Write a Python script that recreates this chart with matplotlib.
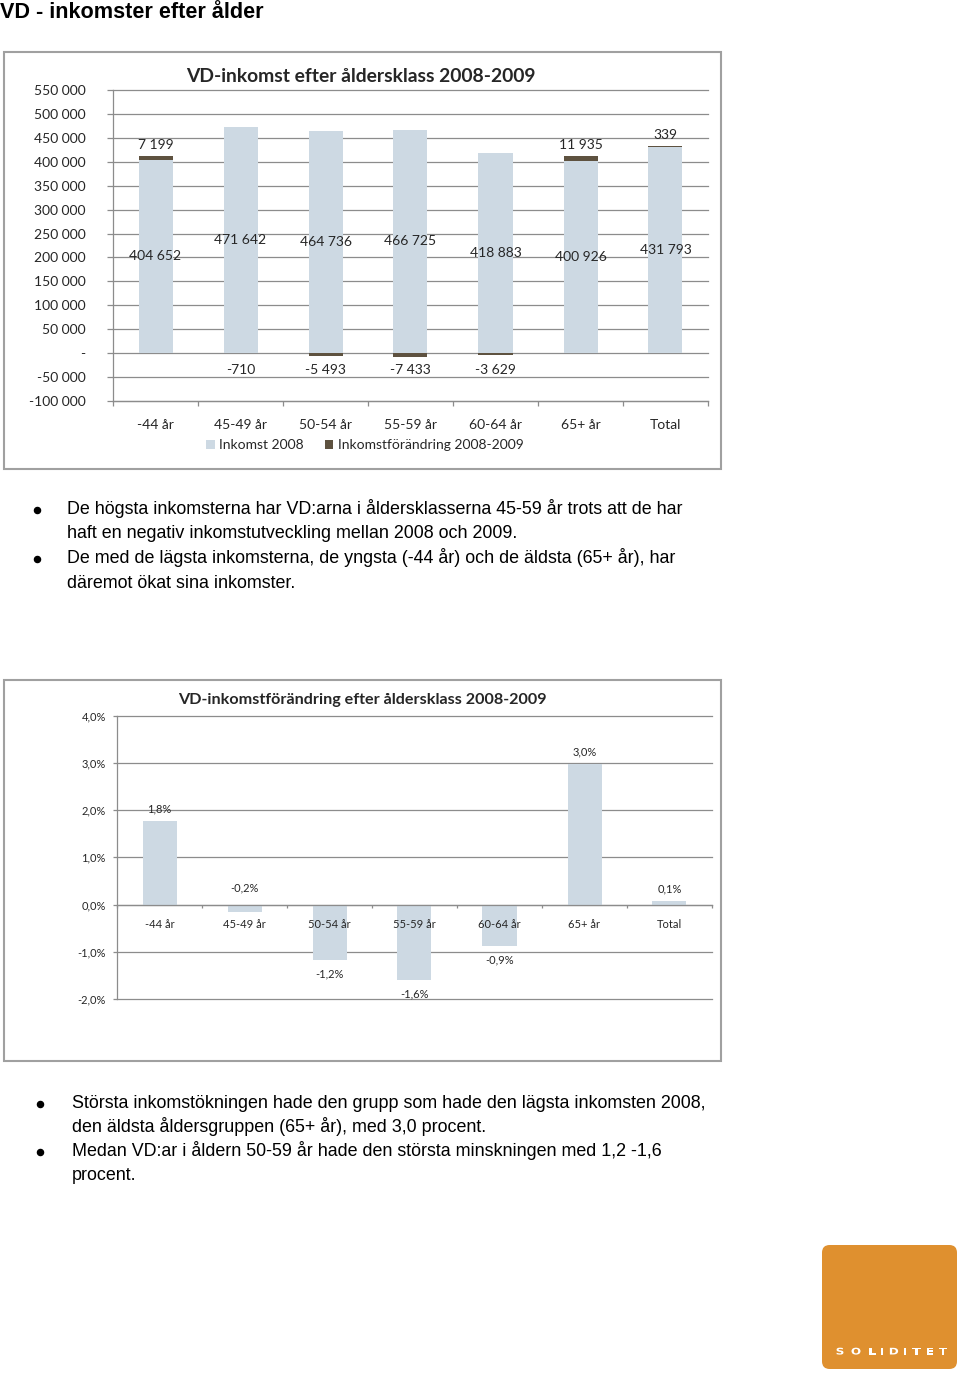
import matplotlib
matplotlib.use("Agg")
import matplotlib.pyplot as plt
from matplotlib.patches import Rectangle, FancyBboxPatch, Patch, PathPatch
from matplotlib.lines import Line2D
from matplotlib.textpath import TextPath
from matplotlib.font_manager import FontProperties
from matplotlib.transforms import Affine2D
from matplotlib.ticker import FixedLocator, FuncFormatter

# ---------------- data ----------------
categories = ["-44 år", "45-49 år", "50-54 år", "55-59 år", "60-64 år", "65+ år", "Total"]
income_2008 = [404652, 471642, 464736, 466725, 418883, 400926, 431793]
income_change = [7199, -710, -5493, -7433, -3629, 11935, 339]
pct_change = [1.78, -0.16, -1.18, -1.59, -0.87, 2.98, 0.08]

series_names = ["Inkomst 2008", "Inkomstförändring 2008-2009"]
title_page = "VD - inkomster efter ålder"
title_chart1 = "VD-inkomst efter åldersklass 2008-2009"
title_chart2 = "VD-inkomstförändring efter åldersklass 2008-2009"
bullets_1 = [
    ["De högsta inkomsterna har VD:arna i åldersklasserna 45-59 år trots att de har",
     "haft en negativ inkomstutveckling mellan 2008 och 2009."],
    ["De med de lägsta inkomsterna, de yngsta (-44 år) och de äldsta (65+ år), har",
     "däremot ökat sina inkomster."],
]
bullets_2 = [
    ["Största inkomstökningen hade den grupp som hade den lägsta inkomsten 2008,",
     "den äldsta åldersgruppen (65+ år), med 3,0 procent."],
    ["Medan VD:ar i åldern 50-59 år hade den största minskningen med 1,2 -1,6",
     "procent."],
]
logo_text = "SOLIDITET"

# ---------------- style ----------------
W, H = 960, 1373
LIGHT = "#cdd9e3"
DARK = "#5e5240"
GRID = "#8c8c8c"
TXT = "#262626"
CFONT = "Lato"
PFONT = ["Liberation Sans", "DejaVu Sans"]
BODY_FS = 12.9

fig = plt.figure(figsize=(W / 100, H / 100), dpi=100)
fig.patch.set_facecolor("white")


def fx(px):
    return px / W


def fy(py):
    return 1 - py / H


def add_axes_px(x0, y0, x1, y1):
    return fig.add_axes([fx(x0), fy(y1), fx(x1 - x0), (y1 - y0) / H])


def box_px(x0, y0, x1, y1):
    fig.add_artist(Rectangle((fx(x0), fy(y1)), fx(x1 - x0), (y1 - y0) / H,
                             transform=fig.transFigure, fill=False,
                             edgecolor="#a0a0a0", lw=1.5))


def space_fmt(v):
    v = int(round(v))
    if v == 0:
        return "-"
    s = f"{abs(v):,}".replace(",", " ")
    return ("-" if v < 0 else "") + s


def unclip_grid(ax):
    for ln in ax.get_ygridlines():
        ln.set_clip_on(False)


def bullet_block(blocks, x_bullet, x_text, first_center, step):
    yc = first_center
    for lines in blocks:
        fig.add_artist(Line2D([fx(x_bullet)], [fy(yc + 1.5)], marker="o", ms=4.4,
                              color="black", transform=fig.transFigure, lw=0))
        for ln in lines:
            fig.text(fx(x_text), fy(yc + 6), ln, fontsize=BODY_FS, family=PFONT,
                     ha="left", va="baseline", color="black")
            yc += step


# ---------------- page title ----------------
fig.text(fx(0), fy(17.5), title_page, fontsize=15.6, fontweight="bold",
         family=PFONT, va="baseline", ha="left", color="black")

# ---------------- chart 1 ----------------
box_px(4, 52, 721, 469)
ax1 = add_axes_px(113, 90, 708, 401)
x = list(range(len(categories)))
ax1.bar(x, income_2008, width=0.4, color=LIGHT, zorder=2)
pos_ch = [c if c > 0 else 0 for c in income_change]
neg_ch = [c if c < 0 else 0 for c in income_change]
ax1.bar(x, pos_ch, bottom=income_2008, width=0.4, color=DARK, zorder=2)
ax1.bar(x, neg_ch, bottom=0, width=0.4, color=DARK, zorder=2)

ax1.set_xlim(-0.5, len(categories) - 0.5)
ax1.set_ylim(-100000, 550000)
ax1.yaxis.set_major_locator(FixedLocator(list(range(-100000, 550001, 50000))))
ax1.yaxis.set_major_formatter(FuncFormatter(lambda v, p: space_fmt(v)))
ax1.grid(axis="y", color=GRID, lw=0.9)
ax1.set_axisbelow(True)
unclip_grid(ax1)
for s in ["top", "right"]:
    ax1.spines[s].set_visible(False)
for s in ["left", "bottom"]:
    ax1.spines[s].set_color(GRID)
    ax1.spines[s].set_linewidth(0.9)
ax1.tick_params(axis="y", length=4.3, width=0.9, color=GRID, pad=15.5,
                labelsize=10, labelcolor=TXT)
for t in ax1.get_yticklabels():
    t.set_family(CFONT)
ax1.xaxis.set_major_locator(FixedLocator([i - 0.5 for i in range(len(categories) + 1)]))
ax1.xaxis.set_major_formatter(FuncFormatter(lambda v, p: ""))
ax1.set_xticks(x, categories, minor=True)
ax1.tick_params(axis="x", which="major", length=3.6, width=0.9, color=GRID)
ax1.tick_params(axis="x", which="minor", length=0, pad=13, labelsize=10, labelcolor=TXT)
for t in ax1.get_xticklabels(minor=True):
    t.set_family(CFONT)

for i, (inc, ch) in enumerate(zip(income_2008, income_change)):
    ax1.text(i, inc / 2, space_fmt(inc), ha="center", va="center",
             fontsize=10, family=CFONT, color=TXT, zorder=5)
    if ch > 0:
        ax1.annotate(space_fmt(ch), (i, inc + ch), xytext=(0, 11),
                     textcoords="offset pixels", ha="center", va="center",
                     fontsize=10, family=CFONT, color=TXT)
    else:
        ax1.annotate(space_fmt(ch), (i, 0), xytext=(0, -17),
                     textcoords="offset pixels", ha="center", va="center",
                     fontsize=10, family=CFONT, color=TXT)

fig.text(fx(361), fy(76), title_chart1, fontsize=13.9, fontweight="bold",
         family=CFONT, ha="center", va="center", color=TXT)

handles = [Patch(facecolor=LIGHT, label=series_names[0]),
           Patch(facecolor=DARK, label=series_names[1])]
leg = ax1.legend(handles=handles, loc="center", bbox_to_anchor=(fx(365), fy(445)),
                 bbox_transform=fig.transFigure, ncol=2, frameon=False,
                 handlelength=0.6, handleheight=0.6, handletextpad=0.35,
                 columnspacing=1.5, prop={"family": CFONT, "size": 10})
for t in leg.get_texts():
    t.set_color(TXT)

# ---------------- bullets 1 ----------------
bullet_block(bullets_1, 37, 67, 508, 24.5)

# ---------------- chart 2 ----------------
box_px(4, 680, 721, 1061)
ax2 = add_axes_px(117, 715.7, 712, 999)
ax2.bar(x, pct_change, width=0.4, color=LIGHT, zorder=2)
ax2.set_xlim(-0.5, len(categories) - 0.5)
ax2.set_ylim(-2, 4)
ax2.yaxis.set_major_locator(FixedLocator([-2, -1, 0, 1, 2, 3, 4]))
ax2.yaxis.set_major_formatter(FuncFormatter(lambda v, p: f"{v:.1f}%".replace(".", ",")))
ax2.grid(axis="y", color=GRID, lw=0.9)
ax2.set_axisbelow(True)
unclip_grid(ax2)
for s in ["top", "right"]:
    ax2.spines[s].set_visible(False)
ax2.spines["bottom"].set_position(("data", 0))
for s in ["left", "bottom"]:
    ax2.spines[s].set_color(GRID)
    ax2.spines[s].set_linewidth(0.9)
ax2.tick_params(axis="y", length=3, width=0.9, color=GRID, pad=5,
                labelsize=8, labelcolor=TXT)
for t in ax2.get_yticklabels():
    t.set_family(CFONT)
ax2.xaxis.set_major_locator(FixedLocator([i - 0.5 for i in range(len(categories) + 1)]))
ax2.xaxis.set_major_formatter(FuncFormatter(lambda v, p: ""))
ax2.tick_params(axis="x", which="major", length=2.2, width=0.9, color=GRID)
# category labels drawn on top of the bars
for i, cat in enumerate(categories):
    ax2.annotate(cat, (i, 0), xytext=(0, -20), textcoords="offset pixels",
                 ha="center", va="center", fontsize=8, family=CFONT,
                 color=TXT, zorder=6)

for i, v in enumerate(pct_change):
    lab = f"{v:.1f}%".replace(".", ",")
    if v >= 0:
        xy, off = (i, v), 12
    elif v > -0.5:
        xy, off = (i, 0), 17
    else:
        xy, off = (i, v), -14
    ax2.annotate(lab, xy, xytext=(0, off), textcoords="offset pixels",
                 ha="center", va="center", fontsize=8, family=CFONT, color=TXT)

fig.text(fx(362), fy(700), title_chart2, fontsize=11.65, fontweight="bold",
         family=CFONT, ha="center", va="center", color=TXT)

# ---------------- bullets 2 ----------------
bullet_block(bullets_2, 40, 72, 1102, 24)

# ---------------- logo ----------------
fig.add_artist(FancyBboxPatch((fx(822), fy(1369)), fx(957 - 822), (1369 - 1245) / H,
                              boxstyle="round,pad=0,rounding_size=0.008",
                              transform=fig.transFigure, facecolor="#df902f",
                              edgecolor="none", mutation_aspect=W / H))
letter_x = [840, 856, 872.5, 882, 894, 905, 916.5, 930, 943]
logo_prop = FontProperties(family="DejaVu Sans", weight="bold")
for ch, lx in zip(logo_text, letter_x):
    tp = TextPath((0, 0), ch, size=1, prop=logo_prop)
    ext = tp.get_extents()
    cx = (ext.x0 + ext.x1) / 2
    tr = (Affine2D().translate(-cx, 0).scale(12.0, 9.2)
          .translate(lx, H - 1354.5))
    fig.add_artist(PathPatch(tr.transform_path(tp), facecolor="white",
                             edgecolor="none", transform=None))

fig.savefig("out.png", dpi=100, facecolor="white")
